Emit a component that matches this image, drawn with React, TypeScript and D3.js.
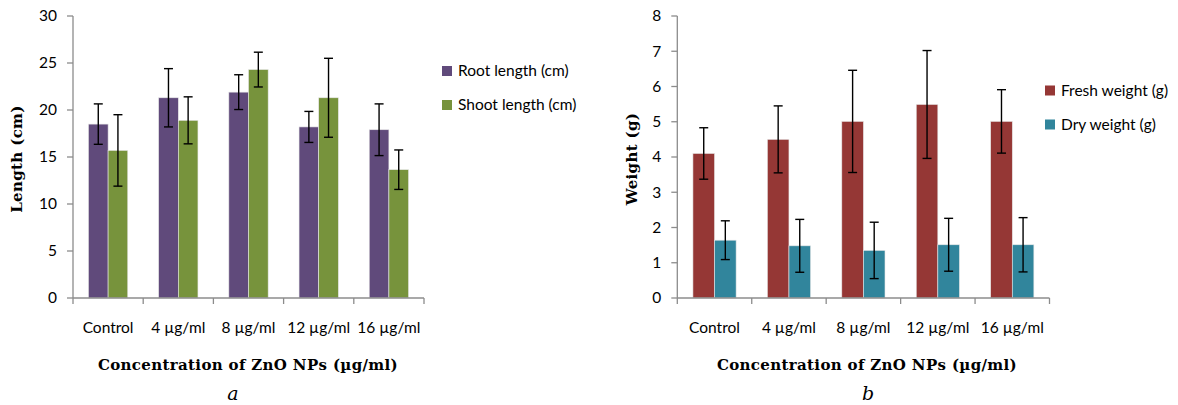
import React from "react";
import * as d3 from "d3";

// categories shared by both panels
const concentrations = ["Control", "4 µg/ml", "8 µg/ml", "12 µg/ml", "16 µg/ml"];

// panel a — length (cm)
const rootLength = [18.5, 21.3, 21.9, 18.2, 17.9];
const rootLengthErr = [2.15, 3.1, 1.85, 1.65, 2.75];
const shootLength = [15.7, 18.9, 24.3, 21.3, 13.65];
const shootLengthErr = [3.8, 2.5, 1.85, 4.2, 2.1];
const lengthTicks = [0, 5, 10, 15, 20, 25, 30];

// panel b — weight (g)
const freshWeight = [4.1, 4.5, 5.01, 5.49, 5.01];
const freshWeightErr = [0.73, 0.95, 1.45, 1.53, 0.9];
const dryWeight = [1.64, 1.48, 1.35, 1.51, 1.51];
const dryWeightErr = [0.55, 0.75, 0.8, 0.75, 0.77];
const weightTicks = [0, 1, 2, 3, 4, 5, 6, 7, 8];

const tickFont = "Lato, 'Open Sans', sans-serif";
const titleFont = "DejaVu Serif, serif";
const axisColor = "#8c8c8c";

type Series = { name: string; values: number[]; errors: number[]; color: string };

type PanelProps = {
  series: Series[];
  ticks: number[];
  xRange: [number, number];
  yRange: [number, number];
  padInner: number;
  yTitle: string;
  yTitleX: number;
  titleX: number;
  captionX: number;
  legendX: number;
  legendY: number;
  caption: string;
};

const Panel = ({ series, ticks, xRange, yRange, padInner, yTitle, yTitleX, titleX, captionX, legendX, legendY, caption }: PanelProps) => {
  const x = d3.scaleBand<string>()
    .domain(concentrations)
    .range(xRange)
    .paddingInner(padInner)
    .paddingOuter(padInner / 2);

  const xSub = d3.scaleBand<string>()
    .domain(series.map((s) => s.name))
    .range([0, x.bandwidth()]);

  const y = d3.scaleLinear()
    .domain([0, d3.max(ticks) as number])
    .range(yRange);

  const step = x.step();
  const x0 = xRange[0];
  const capHalf = 4.5;

  return (
    <g>
      {/* bars */}
      {series.map((s) => (
        <g key={s.name}>
          {s.values.map((v, i) => (
            <rect
              key={i}
              x={(x(concentrations[i]) as number) + (xSub(s.name) as number)}
              y={y(v)}
              width={xSub.bandwidth()}
              height={y(0) - y(v)}
              fill={s.color}
              stroke="#e6e6e6"
              strokeWidth={0.6}
            />
          ))}
        </g>
      ))}

      {/* axes */}
      <line x1={x0} x2={x0} y1={y(0)} y2={y(d3.max(ticks) as number)} stroke={axisColor} strokeWidth={1.3} />
      <line x1={x0} x2={xRange[1]} y1={y(0)} y2={y(0)} stroke={axisColor} strokeWidth={1.3} />
      {ticks.map((t) => (
        <g key={t}>
          <line x1={x0 - 6} x2={x0} y1={y(t)} y2={y(t)} stroke={axisColor} strokeWidth={1.3} />
          <text x={x0 - 16} y={y(t)} dy="0.35em" textAnchor="end" fontFamily={tickFont} fontSize={15.5} fill="#000">
            {t}
          </text>
        </g>
      ))}
      {d3.range(concentrations.length + 1).map((i) => (
        <line key={i} x1={x0 + i * step} x2={x0 + i * step} y1={y(0)} y2={y(0) + 6} stroke={axisColor} strokeWidth={1.3} />
      ))}
      {concentrations.map((c) => (
        <text key={c} x={(x(c) as number) + x.bandwidth() / 2} y={333} textAnchor="middle" fontFamily={tickFont} fontSize={15.5} fill="#000">
          {c}
        </text>
      ))}

      {/* error bars */}
      {series.map((s) =>
        s.values.map((v, i) => {
          const cx = (x(concentrations[i]) as number) + (xSub(s.name) as number) + xSub.bandwidth() / 2;
          const hi = y(v + s.errors[i]);
          const lo = y(v - s.errors[i]);
          return (
            <g key={s.name + i} stroke="#000" strokeWidth={1.4}>
              <line x1={cx} x2={cx} y1={hi} y2={lo} />
              <line x1={cx - capHalf} x2={cx + capHalf} y1={hi} y2={hi} />
              <line x1={cx - capHalf} x2={cx + capHalf} y1={lo} y2={lo} />
            </g>
          );
        })
      )}

      {/* titles */}
      <text
        transform={`translate(${yTitleX},${(yRange[0] + yRange[1]) / 2 + 2}) rotate(-90)`}
        textAnchor="middle"
        dy="0.35em"
        fontFamily={titleFont}
        fontWeight="bold"
        fontSize={15}
        letterSpacing={0.35}
      >
        {yTitle}
      </text>
      <text x={titleX} y={370} textAnchor="middle" fontFamily={titleFont} fontWeight="bold" fontSize={15} letterSpacing={0.35}>
        Concentration of ZnO NPs (µg/ml)
      </text>
      <text x={captionX} y={400} textAnchor="middle" fontFamily={titleFont} fontStyle="italic" fontSize={19}>
        {caption}
      </text>

      {/* legend */}
      {series.map((s, i) => (
        <g key={s.name} transform={`translate(${legendX},${legendY + i * 34})`}>
          <rect x={0} y={-5} width={10} height={10} fill={s.color} />
          <text x={16} y={0} dy="0.35em" fontFamily={tickFont} fontSize={15.5} fill="#000">
            {s.name}
          </text>
        </g>
      ))}
    </g>
  );
};

export default function App() {
  return (
    <div style={{ position: "absolute", left: 0, top: 0 }}>
      <svg width={1178} height={405} style={{ display: "block", background: "#fff" }}>
        <Panel
          series={[
            { name: "Root length (cm)", values: rootLength, errors: rootLengthErr, color: "#604a7b" },
            { name: "Shoot length (cm)", values: shootLength, errors: shootLengthErr, color: "#77933c" },
          ]}
          ticks={lengthTicks}
          xRange={[73, 424]}
          yRange={[298, 16]}
          padInner={0.44}
          yTitle="Length (cm)"
          yTitleX={17}
          titleX={248}
          captionX={233}
          legendX={442}
          legendY={71}
          caption="a"
        />
        <Panel
          series={[
            { name: "Fresh weight (g)", values: freshWeight, errors: freshWeightErr, color: "#953735" },
            { name: "Dry weight (g)", values: dryWeight, errors: dryWeightErr, color: "#31859c" },
          ]}
          ticks={weightTicks}
          xRange={[677.3, 1049.5]}
          yRange={[298, 16]}
          padInner={0.42}
          yTitle="Weight (g)"
          yTitleX={632}
          titleX={867}
          captionX={868}
          legendX={1045}
          legendY={90.5}
          caption="b"
        />
      </svg>
    </div>
  );
}
